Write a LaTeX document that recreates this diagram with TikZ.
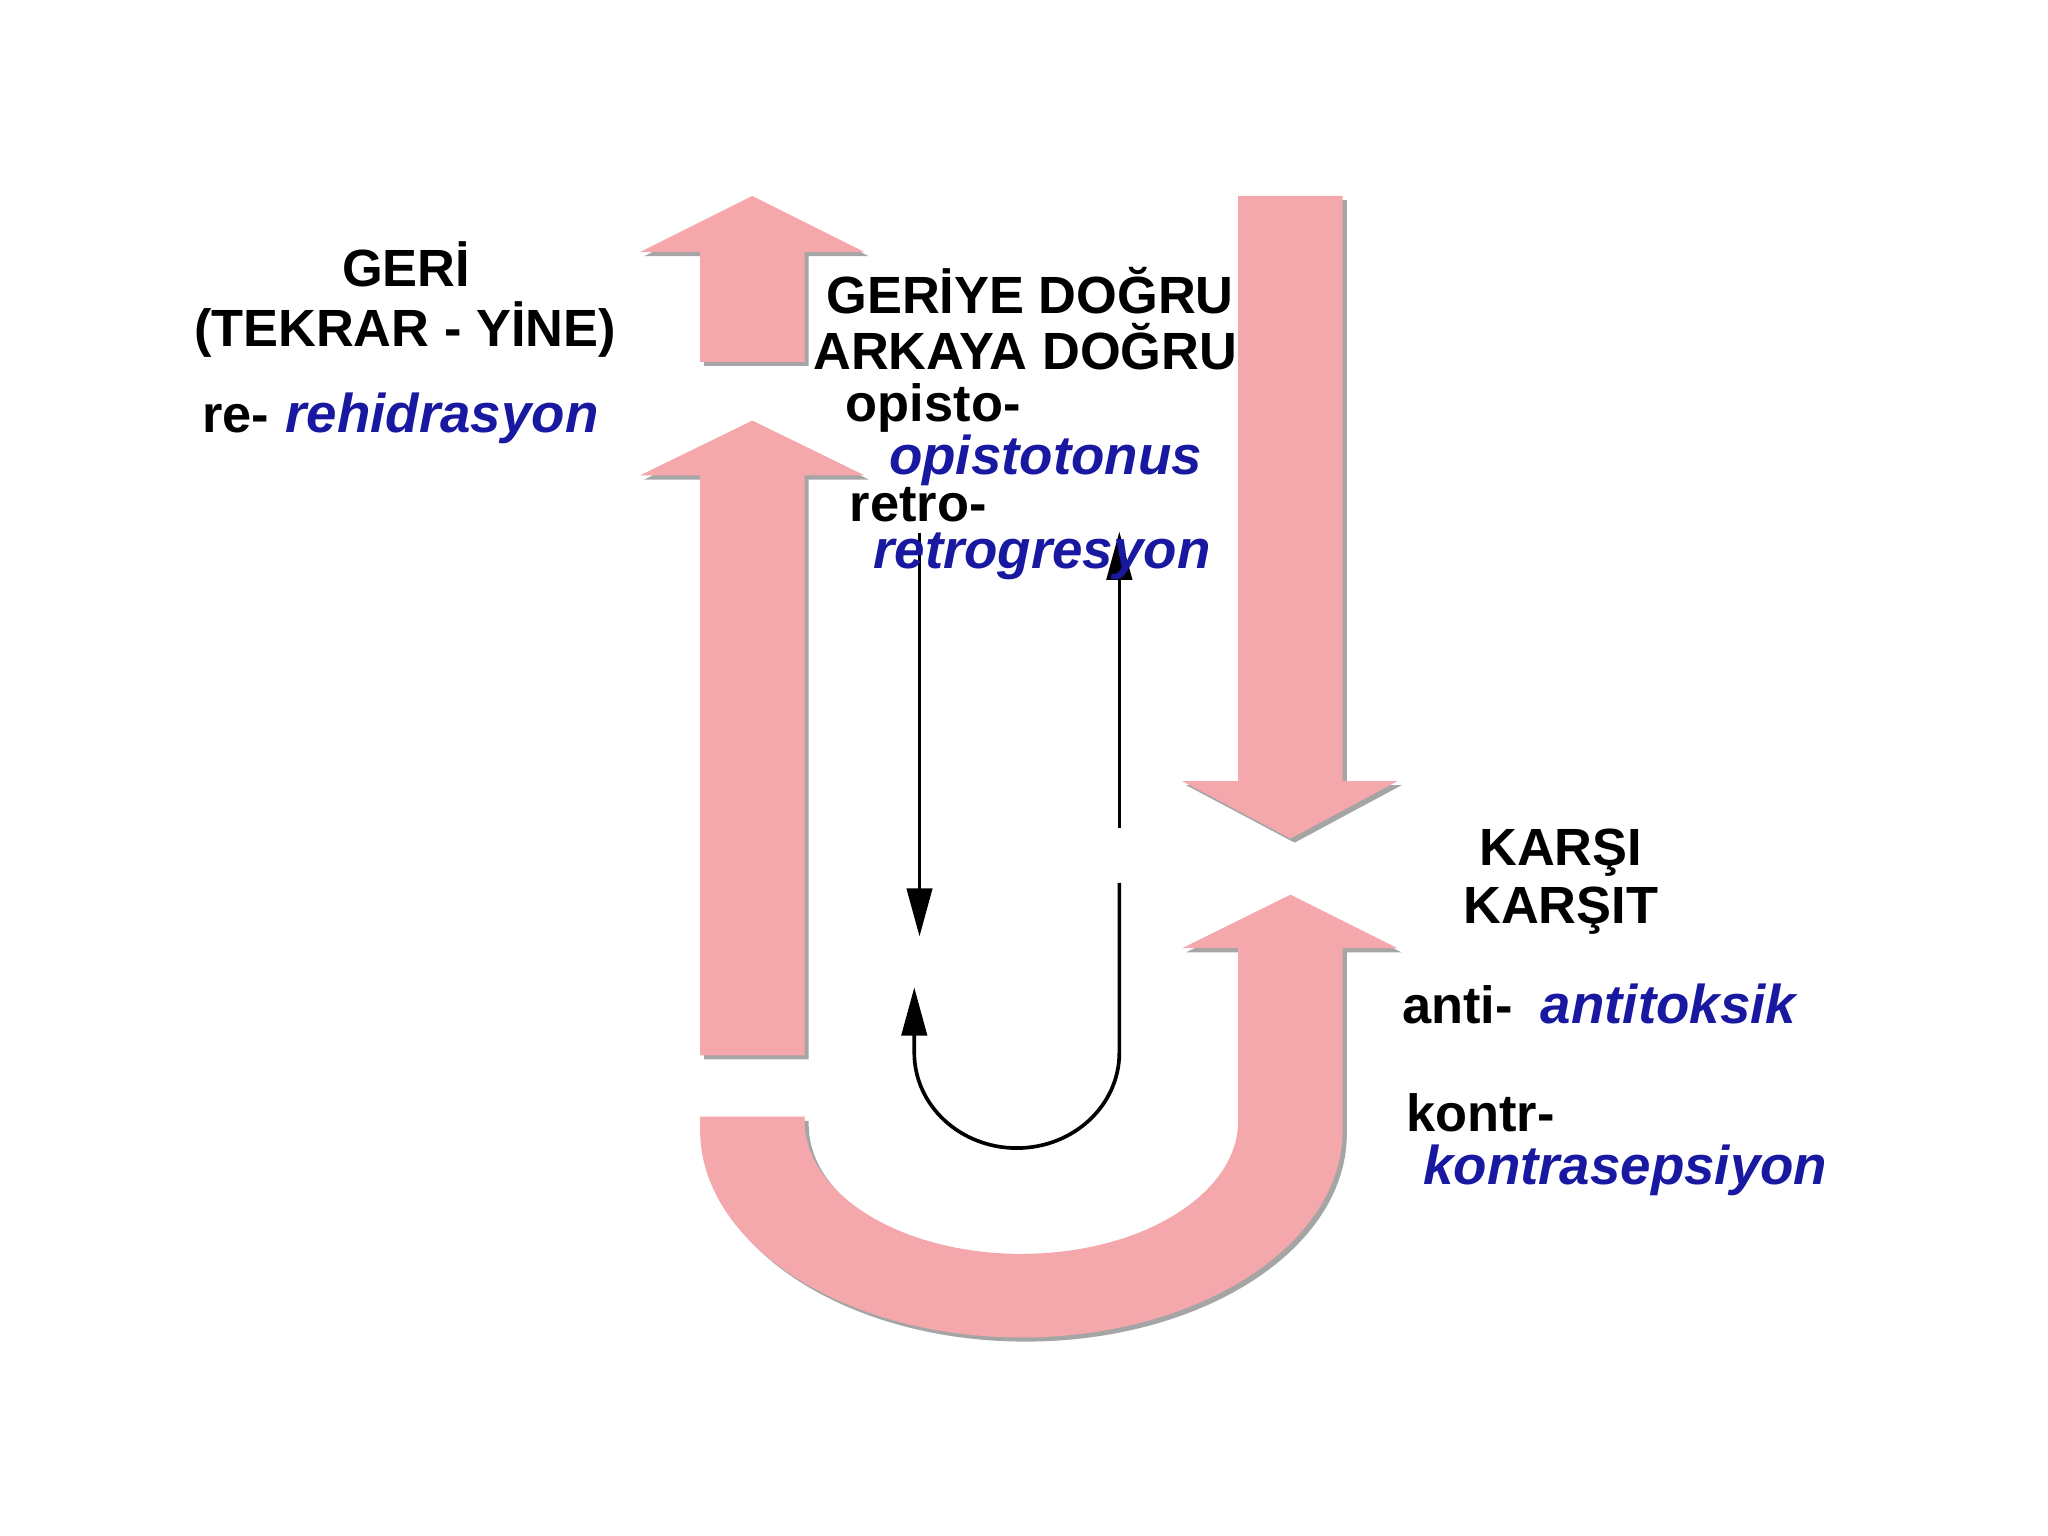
\documentclass[tikz,border=0pt]{standalone}
\usepackage{fontspec}
\setmainfont{Liberation Sans}
\usetikzlibrary{arrows.meta,shadows}
\definecolor{arrowpink}{RGB}{244,168,172}
\definecolor{wordblue}{RGB}{24,24,160}

\begin{document}
\begin{tikzpicture}[x=0.01cm, y=-0.01cm,
	bigarrow/.style={fill=arrowpink, drop shadow={shadow xshift=0.9pt, shadow yshift=-0.9pt, fill=black!70, opacity=0.5}},
	thinarrow/.style={black, line width=0.8pt, -{Triangle[length=10.5pt, width=5.5pt]}},
	word/.style={inner sep=0pt, font=\bfseries\fontsize{11.4}{13}\selectfont},
	example/.style={inner sep=0pt, text=wordblue, font=\bfseries\itshape\fontsize{11.9}{13}\selectfont}]
	\useasboundingbox (0,0) rectangle (1568,1176);

	% big arrows
	\fill[bigarrow] (536,277) -- (536,193) -- (490,193) -- (576,150) -- (662,193) -- (616,193) -- (616,277) -- cycle;
	\fill[bigarrow] (536,808) -- (536,364) -- (490,364) -- (576,322) -- (662,364) -- (616,364) -- (616,808) -- cycle;
	\fill[bigarrow] (948,150) -- (1028,150) -- (1028,598) -- (1070,598) -- (988,642) -- (905,598) -- (948,598) -- cycle;
	\fill[bigarrow] (536,855) -- (536,865) arc[start angle=180, end angle=0, x radius=246, y radius=159]
		-- (1028,726) -- (1070,726) -- (988,685) -- (905,726) -- (948,726)
		-- (948,858) arc[start angle=0, end angle=180, x radius=166, y radius=102] -- (616,855) -- cycle;

	% thin arrows
	\coordinate (downtop) at (704,408);
	\coordinate (downend) at (704,717);
	\coordinate (uptip) at (857,407);
	\coordinate (upbottom) at (857,634);
	\coordinate (turntop) at (857,676);
	\coordinate (turntip) at (700,756);
	\draw[thinarrow] (downtop) -- (downend);
	\draw[thinarrow] (upbottom) -- (uptip);
	\draw[thinarrow] (turntop) -- (857,806) arc[start angle=0, end angle=180, x radius=78.5, y radius=73] -- (turntip);

	% texts
	\node[word, anchor=base] (geri) at (311,219) {GERİ};
	\node[word, anchor=base] (tekrar) at (310,265) {(TEKRAR - YİNE)};
	\node[word, anchor=base west] (re) at (154,331) {re-};
	\node[example, anchor=base west] (rehidrasyon) at (218,331) {rehidrasyon};

	\node[word, anchor=base west] (geriye) at (632,240) {GERİYE DOĞRU};
	\node[word, anchor=base west] (arkaya) at (622,283) {ARKAYA DOĞRU};
	\node[word, anchor=base west] (opisto) at (647,323) {opisto-};
	\node[example, anchor=base west] (opistotonus) at (680,363) {opistotonus};
	\node[word, anchor=base west] (retro) at (650,399) {retro-};
	\node[example, anchor=base west] (retrogresyon) at (668,435) {retrogresyon};

	\node[word, anchor=base] (karsi) at (1195,663) {KARŞI};
	\node[word, anchor=base] (karsit) at (1195,707) {KARŞIT};
	\node[word, anchor=base west] (anti) at (1073,784) {anti-};
	\node[example, anchor=base west] (antitoksik) at (1179,784) {antitoksik};
	\node[word, anchor=base west] (kontr) at (1076,866) {kontr-};
	\node[example, anchor=base west] (kontrasepsiyon) at (1089,907) {kontrasepsiyon};
\end{tikzpicture}
\end{document}
